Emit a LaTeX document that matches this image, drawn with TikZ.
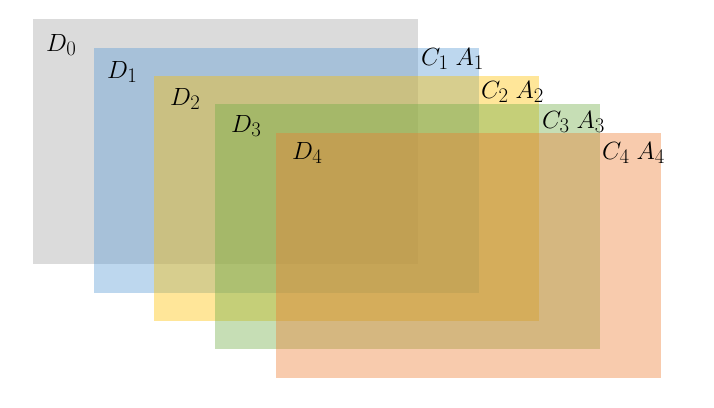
\documentclass[tikz,border=0pt]{standalone}
\definecolor{lgray}{HTML}{A5A5A5}
\definecolor{lblue}{HTML}{5B9BD5}
\definecolor{lyellow}{HTML}{FFC000}
\definecolor{lgreen}{HTML}{70AD47}
\definecolor{lorange}{HTML}{ED7D31}
\begin{document}
\begin{tikzpicture}[x=1pt,y=-1pt,
  layer/.style={draw=none, fill opacity=0.4, minimum width=385pt, minimum height=245pt, anchor=north west, inner sep=0pt, outer sep=0pt},
  lbl/.style={anchor=base west, inner sep=0pt, font=\Huge}]
\useasboundingbox (0,0) rectangle (714,407);
\node[layer, fill=lgray]   (d0) at (33,19)  {};
\node[layer, fill=lblue]   (d1) at (94,48)  {};
\node[layer, fill=lyellow] (d2) at (154,76) {};
\node[layer, fill=lgreen]  (d3) at (215,104) {};
\node[layer, fill=lorange] (d4) at (276,133) {};
\node[lbl] (t0) at (46,51)  {$D_0$};
\node[lbl] (t1) at (107,78) {$D_1$};
\node[lbl] (t2) at (170,105) {$D_2$};
\node[lbl] (t3) at (231,132) {$D_3$};
\node[lbl] (t4) at (292,159) {$D_4$};
\node[lbl] (c1) at (421,65)  {$C_1\;A_1$};
\node[lbl] (c2) at (481,98)  {$C_2\;A_2$};
\node[lbl] (c3) at (542,128) {$C_3\;A_3$};
\node[lbl] (c4) at (602,159) {$C_4\;A_4$};
\end{tikzpicture}
\end{document}
